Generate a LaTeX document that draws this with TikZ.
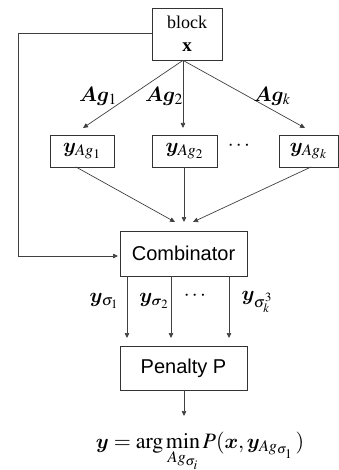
\documentclass[tikz,border=0pt]{standalone}
\usepackage{amsmath,bm}
\usepackage{mathptmx}
\usepackage{fontspec}
\setmainfont{Liberation Serif}
\setsansfont{Liberation Sans}
\usetikzlibrary{arrows.meta,calc}
\begin{document}
\begin{tikzpicture}[x=1pt,y=-1pt,
  box/.style={draw=black!80,line width=0.7pt,inner sep=0pt,font=\fontsize{22}{24}\selectfont},
  arr/.style={draw=black!75,line width=0.7pt,-{Triangle[length=5pt,width=4.5pt]}},
  lab/.style={inner sep=0pt,font=\fontsize{21}{24}\selectfont}]
\useasboundingbox (0,0) rectangle (339,470);
% boxes
\node[box,minimum width=70pt,minimum height=52pt] (block) at (187,34) {};
\node[lab,font=\fontsize{18}{20}\selectfont] (blocktxt) at (187,22) {block};
\node[lab,font=\fontsize{19}{20}\selectfont] (xtxt) at (187,47) {\textbf{x}};
\node[box,minimum width=64pt,minimum height=32pt] (y1) at (82,151) {$\bm{y}_{Ag_1}$};
\node[box,minimum width=65pt,minimum height=32pt] (y2) at (184.5,151) {$\bm{y}_{Ag_2}$};
\node[box,minimum width=59pt,minimum height=32pt] (yk) at (308.5,151) {$\bm{y}_{Ag_k}$};
\node[lab] (dots1) at (240,146) {$\cdots$};
\node[box,font=\sffamily\fontsize{20}{22}\selectfont,minimum width=127pt,minimum height=45pt] (comb) at (183.5,253.5) {Combinator};
\node[box,font=\sffamily\fontsize{20}{22}\selectfont,minimum width=127pt,minimum height=44pt] (pen) at (183.5,368) {Penalty P};
% coordinates
\coordinate (src) at ($(block.south)+(-4,0)$);
\coordinate (t1) at (83,128);
\coordinate (t2) at (183,128);
\coordinate (tk) at (305,128);
\coordinate (b1) at (76,167);
\coordinate (b2) at (184,167);
\coordinate (bk) at (311,167);
\coordinate (c1) at (175,222);
\coordinate (c2) at (184,222);
\coordinate (ck) at (193,222);
\coordinate (fbA) at (18,33);
\coordinate (fbB) at (18,256);
\coordinate (fbT) at (118,256);
\coordinate (s1) at (127,276);
\coordinate (s2) at (171,276);
\coordinate (sk) at (229,276);
\coordinate (e1) at (127,338);
\coordinate (e2) at (171,338);
\coordinate (ek) at (229,338);
\coordinate (pout) at (184,390);
\coordinate (pend) at (184,416);
% connectors
\draw[arr] (src) -- (t1);
\draw[arr] (src) -- (t2);
\draw[arr] (src) -- (tk);
\draw[arr] (b1) -- (c1);
\draw[arr] (b2) -- (c2);
\draw[arr] (bk) -- (ck);
\draw[arr] (block.west |- fbA) -- (fbA) -- (fbB) -- (fbT);
\draw[arr] (s1) -- (e1);
\draw[arr] (s2) -- (e2);
\draw[arr] (sk) -- (ek);
\draw[arr] (pout) -- (pend);
% labels
\node[lab] (ag1) at (98,96) {$\bm{Ag}_1$};
\node[lab] (ag2) at (164,96) {$\bm{Ag}_2$};
\node[lab] (agk) at (272,96) {$\bm{Ag}_k$};
\node[lab] (ys1) at (104,301) {$\bm{y}_{\sigma_1}$};
\node[lab] (ys2) at (154,301) {$\bm{y}_{\bm{\sigma}_2}$};
\node[lab] (dots2) at (196,296) {$\cdots$};
\node[lab] (ysk) at (257,302) {$\bm{y}_{\sigma_k^3}$};
\node[lab,anchor=base,font=\fontsize{22}{24}\selectfont] (res) at (200,448) {$\bm{y} = \arg\min\limits_{Ag_{\sigma_i}} P(\bm{x},\bm{y}_{Ag_{\sigma_1}}\,)$};
\end{tikzpicture}
\end{document}
